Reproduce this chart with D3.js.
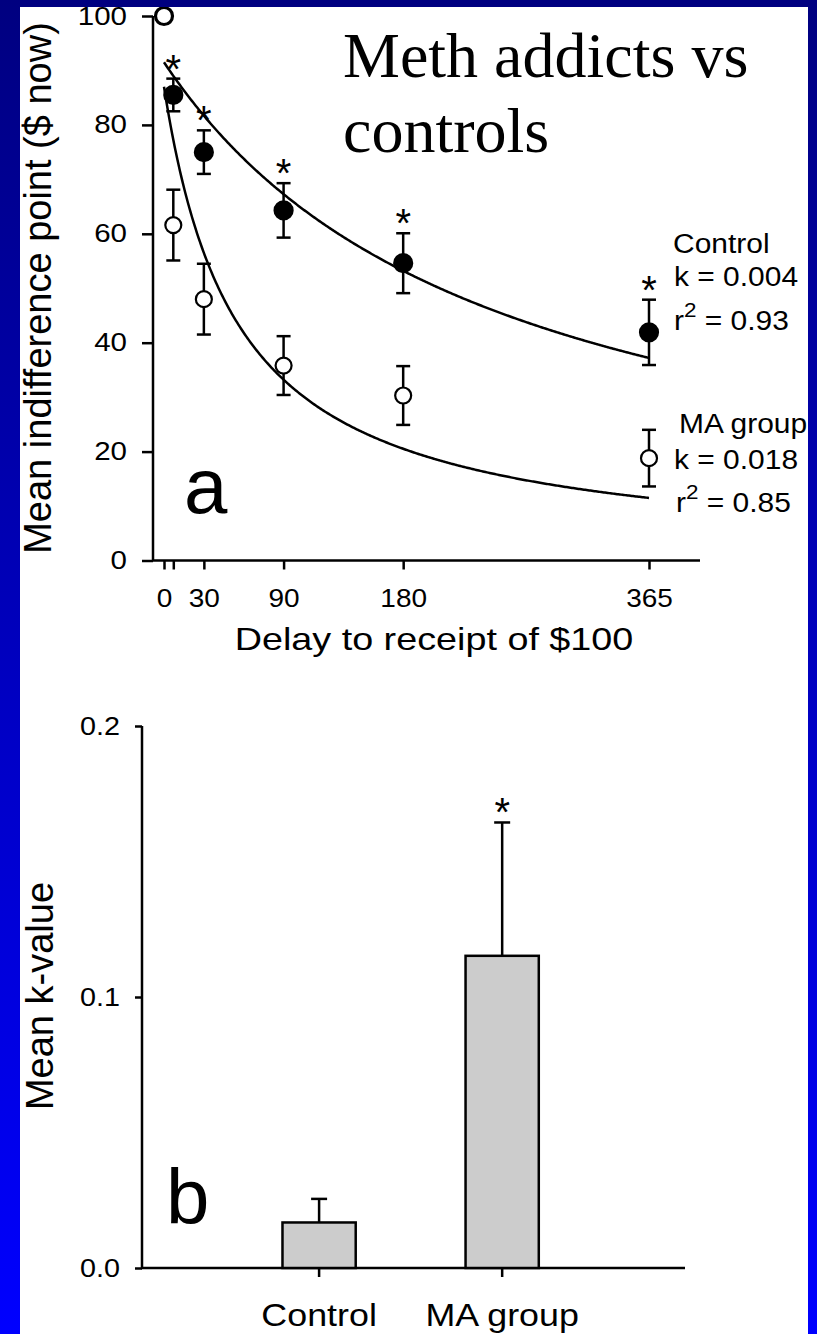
<!DOCTYPE html>
<html>
<head>
<meta charset="utf-8">
<script src="https://cdn.jsdelivr.net/npm/d3@7/dist/d3.min.js"></script>
<style>
  html, body { margin: 0; padding: 0; background: #000080; }
  svg { display: block; }
  text { font-family: "Liberation Sans", Arial, Helvetica, sans-serif; fill: #000; }
</style>
</head>
<body>
<div id="chart"></div>
<script>
// ---------- Data (panel a) ----------
const delays = [0, 7, 30, 90, 180, 365];
const delayTickLabels = ["0", "", "30", "90", "180", "365"];
const controlMean = [100, 85.5, 75.0, 64.3, 54.6, 41.9];
const controlSem  = [0, 3.0, 4.0, 5.0, 5.5, 6.0];
const controlSig  = [false, true, true, true, true, true];
const maMean = [100, 61.6, 48.0, 35.8, 30.3, 18.8];
const maSem  = [0, 6.5, 6.5, 5.4, 5.4, 5.2];
const yTicksA = [0, 20, 40, 60, 80, 100];
// hyperbolic fits V = A / (1 + kD)
const fitGroups = ["Control", "MA group"];
const fitA = [91.5, 87];
const fitK = [0.004, 0.018];
const fitR2 = ["0.93", "0.85"];

// ---------- Data (panel b) ----------
const groupsB = ["Control", "MA group"];
const kMean = [0.0168, 0.1152];
const kSem  = [0.0087, 0.0492];
const kSig  = [false, true];
const yTicksB = [0.0, 0.1, 0.2];

const W = 817, H = 1334;
const svg = d3.select("#chart").append("svg").attr("width", W).attr("height", H);

const defs = svg.append("defs");
const grad = defs.append("linearGradient").attr("id", "bg").attr("x1", 0).attr("y1", 0).attr("x2", 0).attr("y2", 1);
grad.append("stop").attr("offset", "0%").attr("stop-color", "#000080");
grad.append("stop").attr("offset", "100%").attr("stop-color", "#0000FF");

svg.append("rect").attr("width", W).attr("height", H).attr("fill", "url(#bg)");
const panel = {x: 20, y: 7, w: 788, h: H - 7};
svg.append("rect").attr("x", panel.x).attr("y", panel.y).attr("width", panel.w).attr("height", panel.h).attr("fill", "#fff");

function stretch(sel, sx) {
  sel.each(function() {
    const t = d3.select(this);
    const x = +(t.attr("x") || 0);
    t.attr("x", x / sx).attr("transform", `scale(${sx},1)`);
  });
}
function hText(x, y, str, size, sx, anchor) {
  const g = svg.append("g").attr("transform", `translate(${x},${y}) scale(${sx},1)`);
  return g.append("text").attr("font-size", size).attr("text-anchor", anchor || "start").text(str);
}

// ---------- Title ----------
svg.append("text").attr("x", 343).attr("y", 77)
  .style("font-family", "'Liberation Serif', 'Times New Roman', serif").attr("font-size", 64).text("Meth addicts vs");
svg.append("text").attr("x", 343).attr("y", 152)
  .style("font-family", "'Liberation Serif', 'Times New Roman', serif").attr("font-size", 64).text("controls");

// ---------- Panel a ----------
const xA = d3.scaleLinear().domain([0, 365]).range([164, 649]);
const yA = d3.scaleLinear().domain([0, 100]).range([560.5, 16]);
const axA = 153, axisEndA = 700;
const gA = svg.append("g");

// axis lines
gA.append("line").attr("x1", axA).attr("x2", axA).attr("y1", yA(100)).attr("y2", yA(0))
  .attr("stroke", "#000").attr("stroke-width", 2.5);
gA.append("line").attr("x1", axA - 1).attr("x2", axisEndA).attr("y1", yA(0)).attr("y2", yA(0))
  .attr("stroke", "#000").attr("stroke-width", 2.5);

const yAxisA = gA.append("g").attr("transform", `translate(${axA},0)`)
  .call(d3.axisLeft(yA).tickValues(yTicksA).tickSize(11).tickPadding(15).tickSizeOuter(0));
yAxisA.select(".domain").remove();
yAxisA.selectAll(".tick line").attr("stroke-width", 2.5);
yAxisA.selectAll("text").attr("font-size", 25).style("font-family", "'Liberation Sans', Arial, sans-serif");
stretch(yAxisA.selectAll("text"), 1.18);

const xAxisA = gA.append("g").attr("transform", `translate(0,${yA(0)})`)
  .call(d3.axisBottom(xA).tickValues(delays).tickSize(9).tickPadding(20).tickSizeOuter(0)
    .tickFormat((d, i) => delayTickLabels[i]));
xAxisA.select(".domain").remove();
xAxisA.selectAll(".tick line").attr("stroke-width", 2.5);
xAxisA.selectAll("text").attr("font-size", 25).style("font-family", "'Liberation Sans', Arial, sans-serif");
stretch(xAxisA.selectAll("text"), 1.12);

hText(434, 650, "Delay to receipt of $100", 32, 1.18, "middle");
svg.append("text").attr("transform", "translate(51,288) rotate(-90)").attr("text-anchor", "middle")
  .attr("font-size", 38).text("Mean indifference point ($ now)");

// fit curves
const days = d3.range(0, 366, 1);
const line = d3.line().x(d => xA(d[0])).y(d => yA(d[1]));
fitA.forEach((A, gi) => {
  const pts = days.map(dd => [dd, A / (1 + fitK[gi] * dd)]);
  gA.append("path").attr("d", line(pts)).attr("fill", "none").attr("stroke", "#000").attr("stroke-width", 2.5);
});

function drawSeries(means, sems, filled) {
  const g = gA.append("g");
  means.forEach((m, i) => {
    const cx = xA(delays[i]);
    if (sems[i] > 0) {
      const top = yA(m + sems[i]), bot = yA(m - sems[i]);
      g.append("line").attr("x1", cx).attr("x2", cx).attr("y1", top).attr("y2", bot).attr("stroke", "#000").attr("stroke-width", 2.5);
      [top, bot].forEach(yy => g.append("line").attr("x1", cx - 7).attr("x2", cx + 7).attr("y1", yy).attr("y2", yy)
        .attr("stroke", "#000").attr("stroke-width", 2.5));
    }
    g.append("circle").attr("cx", cx).attr("cy", yA(m)).attr("r", filled ? 9 : 8)
      .attr("fill", filled ? "#000" : "#fff").attr("stroke", "#000").attr("stroke-width", 2.2);
  });
}
drawSeries(controlMean, controlSem, true);
drawSeries(maMean, maSem, false);

// significance asterisks
controlMean.forEach((m, i) => {
  if (!controlSig[i]) return;
  svg.append("text").attr("x", xA(delays[i])).attr("y", yA(m + controlSem[i]) + 4)
    .attr("text-anchor", "middle").attr("font-size", 40).text("*");
});

// panel letter
svg.append("text").attr("x", 184).attr("y", 513).attr("font-size", 78).text("a");

// fit annotations
const annY = [[253, 286, 330], [433, 469, 512]];
const annX = [[673, 674, 674], [679, 674, 676]];
fitGroups.forEach((name, gi) => {
  hText(annX[gi][0], annY[gi][0], name, 28, 1.07);
  hText(annX[gi][1], annY[gi][1], "k = " + fitK[gi].toFixed(3), 28, 1.07);
  const t = hText(annX[gi][2], annY[gi][2], "", 28, 1.07);
  t.append("tspan").text("r");
  t.append("tspan").attr("font-size", 21).attr("dy", -13).text("2");
  t.append("tspan").attr("dy", 13).text(" = " + fitR2[gi]);
});

// ---------- Panel b ----------
const axB = 142, axisEndB = 685;
const xB = d3.scaleBand().domain(groupsB).range([axB, axisEndB]).paddingInner(0.6).paddingOuter(0.783).align(0.49);
const yB = d3.scaleLinear().domain([0, 0.2]).range([1268, 726]);
const gB = svg.append("g");

gB.append("line").attr("x1", axB).attr("x2", axB).attr("y1", yB(0.2)).attr("y2", yB(0))
  .attr("stroke", "#000").attr("stroke-width", 2.5);
gB.append("line").attr("x1", axB - 1).attr("x2", axisEndB).attr("y1", yB(0)).attr("y2", yB(0))
  .attr("stroke", "#000").attr("stroke-width", 2.5);

const yAxisB = gB.append("g").attr("transform", `translate(${axB},0)`)
  .call(d3.axisLeft(yB).tickValues(yTicksB).tickSize(7).tickPadding(15).tickSizeOuter(0).tickFormat(d3.format(".1f")));
yAxisB.select(".domain").remove();
yAxisB.selectAll(".tick line").attr("stroke-width", 2.5);
yAxisB.selectAll("text").attr("font-size", 25).style("font-family", "'Liberation Sans', Arial, sans-serif");
stretch(yAxisB.selectAll("text"), 1.15);

const xAxisB = gB.append("g").attr("transform", `translate(0,${yB(0)})`)
  .call(d3.axisBottom(xB).tickSize(9).tickPadding(26).tickSizeOuter(0));
xAxisB.select(".domain").remove();
xAxisB.selectAll(".tick line").attr("stroke-width", 2.5);
xAxisB.selectAll("text").attr("font-size", 32).style("font-family", "'Liberation Sans', Arial, sans-serif");
stretch(xAxisB.selectAll("text"), 1.12);

svg.append("text").attr("transform", "translate(53,996) rotate(-90)").attr("text-anchor", "middle")
  .attr("font-size", 38).text("Mean k-value");

groupsB.forEach((gname, i) => {
  const x0 = xB(gname), bw = xB.bandwidth(), cx = x0 + bw / 2;
  const top = yB(kMean[i] + kSem[i]);
  gB.append("line").attr("x1", cx).attr("x2", cx).attr("y1", yB(kMean[i])).attr("y2", top)
    .attr("stroke", "#000").attr("stroke-width", 2.5);
  gB.append("line").attr("x1", cx - 8).attr("x2", cx + 8).attr("y1", top).attr("y2", top)
    .attr("stroke", "#000").attr("stroke-width", 2.5);
  gB.append("rect").attr("x", x0).attr("y", yB(kMean[i])).attr("width", bw).attr("height", yB(0) - yB(kMean[i]))
    .attr("fill", "#cccccc").attr("stroke", "#000").attr("stroke-width", 2.5);
  if (kSig[i]) {
    svg.append("text").attr("x", cx).attr("y", top + 4).attr("text-anchor", "middle").attr("font-size", 40).text("*");
  }
});

svg.append("text").attr("x", 166).attr("y", 1224).attr("font-size", 78).text("b");

// ---------- Blue frame on top (clips overflow) ----------
svg.append("path")
  .attr("d", `M0,0H${W}V${H}H0Z M${panel.x},${panel.y}V${H}H${panel.x + panel.w}V${panel.y}Z`)
  .attr("fill", "url(#bg)").attr("fill-rule", "evenodd");
</script>
</body>
</html>
